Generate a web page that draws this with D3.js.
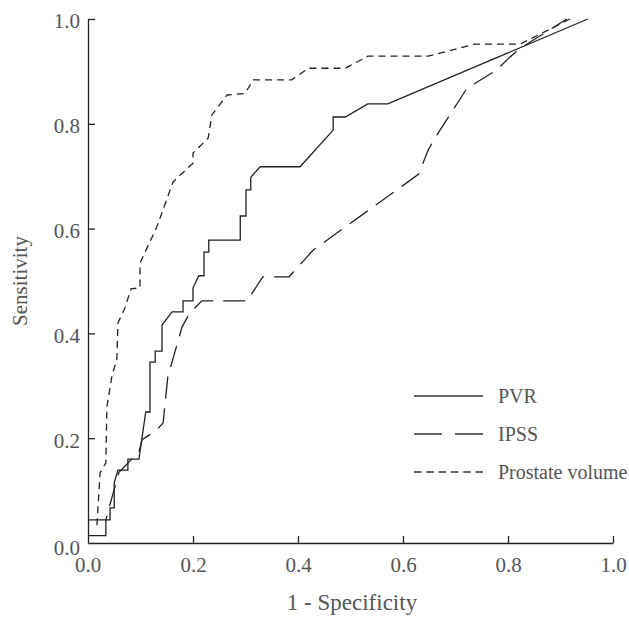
<!DOCTYPE html>
<html>
<head>
<meta charset="utf-8">
<script src="https://cdn.jsdelivr.net/npm/d3@7"></script>
<style>
  body { margin: 0; background: #fff; }
</style>
</head>
<body>
<svg id="chart" width="629" height="618"></svg>
<script>
// ROC curves as [1 - specificity, sensitivity]
const pvr = [
  [0, 0.014], [0.034, 0.014], [0.034, 0.044], [0.042, 0.044], [0.042, 0.067],
  [0.050, 0.067], [0.050, 0.115], [0.057, 0.139], [0.076, 0.139], [0.076, 0.160],
  [0.097, 0.160], [0.110, 0.250], [0.118, 0.250], [0.118, 0.345], [0.128, 0.345],
  [0.128, 0.366], [0.141, 0.366], [0.141, 0.416], [0.160, 0.441], [0.181, 0.441],
  [0.181, 0.462], [0.200, 0.462], [0.200, 0.487], [0.211, 0.510], [0.221, 0.510],
  [0.221, 0.555], [0.230, 0.555], [0.230, 0.578], [0.290, 0.578], [0.290, 0.624],
  [0.301, 0.624], [0.301, 0.674], [0.310, 0.674], [0.310, 0.698], [0.328, 0.718],
  [0.404, 0.718], [0.467, 0.788], [0.467, 0.813], [0.490, 0.813], [0.533, 0.838],
  [0.571, 0.838], [0.952, 1.0]
]
const ipss = [
  [0, 0.044], [0.034, 0.044], [0.042, 0.074], [0.059, 0.135], [0.097, 0.174],
  [0.103, 0.197], [0.131, 0.216], [0.143, 0.229], [0.152, 0.317], [0.179, 0.412],
  [0.194, 0.439], [0.217, 0.462], [0.303, 0.462], [0.333, 0.508], [0.383, 0.508],
  [0.429, 0.559], [0.630, 0.704], [0.648, 0.750], [0.661, 0.773], [0.722, 0.868],
  [0.779, 0.903], [0.798, 0.922], [0.820, 0.942], [0.912, 1.0]
]
const prostate = [
  [0.017, 0.034], [0.023, 0.134], [0.034, 0.153], [0.036, 0.260], [0.046, 0.321],
  [0.055, 0.350], [0.057, 0.420], [0.069, 0.445], [0.082, 0.485], [0.099, 0.487],
  [0.099, 0.534], [0.131, 0.603], [0.162, 0.689], [0.200, 0.725], [0.200, 0.744],
  [0.229, 0.773], [0.236, 0.817], [0.265, 0.855], [0.299, 0.858], [0.315, 0.884],
  [0.388, 0.884], [0.420, 0.906], [0.490, 0.906], [0.533, 0.929], [0.648, 0.929],
  [0.737, 0.952], [0.823, 0.952], [0.918, 1.0]
]
const seriesNames = ["PVR", "IPSS", "Prostate volume"]
const tickValues = [0, 0.2, 0.4, 0.6, 0.8, 1.0]

const FONT = "'Liberation Serif', 'DejaVu Serif', serif"
const TEXT = "#555"

const svg = d3.select("#chart")
const margin = { left: 88, top: 19, right: 16, bottom: 75 }
const W = 629, H = 618

const x = d3.scaleLinear().domain([0, 1]).range([margin.left, W - margin.right])
const y = d3.scaleLinear().domain([0, 1]).range([H - margin.bottom, margin.top])

const series = [
  { name: seriesNames[0], data: pvr, dash: null, legendDash: null },
  { name: seriesNames[1], data: ipss, dash: "22,10", legendDash: "28,13" },
  { name: seriesNames[2], data: prostate, dash: "7,5", legendDash: "7.5,4.8" }
]

// axes, ticks point into the plot
const xAxis = svg.append("g")
  .attr("transform", `translate(0,${y(0)})`)
  .call(d3.axisBottom(x).tickValues(tickValues.slice(1)).tickSize(-7).tickSizeOuter(0).tickFormat(d3.format(".1f")))
const yAxis = svg.append("g")
  .attr("transform", `translate(${x(0)},0)`)
  .call(d3.axisLeft(y).tickValues(tickValues.slice(1)).tickSize(-7).tickSizeOuter(0).tickFormat(d3.format(".1f")))

svg.selectAll("g").attr("font-family", FONT)
svg.selectAll(".domain, .tick line").attr("stroke", "#222").attr("stroke-width", 1.3)
svg.selectAll(".tick text").attr("font-size", 21).attr("fill", TEXT)
xAxis.selectAll(".tick text").attr("y", 14)
yAxis.selectAll(".tick text").attr("x", -8).attr("dy", "0.42em")

// the shared 0.0 labels at the origin
svg.append("text").attr("x", x(0)).attr("y", y(0) + 14 + 15).attr("text-anchor", "middle")
  .attr("font-family", FONT).attr("fill", TEXT).attr("font-size", 21).text("0.0")
svg.append("text").attr("x", x(0) - 8).attr("y", y(0) + 12).attr("text-anchor", "end")
  .attr("font-family", FONT).attr("fill", TEXT).attr("font-size", 21).text("0.0")

const line = d3.line().x(d => x(d[0])).y(d => y(d[1]))

svg.selectAll(".roc")
  .data(series)
  .join("path")
  .attr("class", "roc")
  .attr("d", d => line(d.data))
  .attr("fill", "none")
  .attr("stroke", "#222")
  .attr("stroke-width", 1.3)
  .attr("stroke-dasharray", d => d.dash)

// legend
const legend = svg.append("g")
series.forEach((s, i) => {
  const ly = 396 + i * 38
  legend.append("line")
    .attr("x1", 414).attr("x2", 483).attr("y1", ly).attr("y2", ly)
    .attr("stroke", "#333").attr("stroke-width", 1.3)
    .attr("stroke-dasharray", s.legendDash)
  legend.append("text")
    .attr("x", 498).attr("y", ly + 7)
    .attr("font-family", FONT).attr("fill", TEXT)
    .attr("font-size", 20)
    .text(s.name)
})

// axis titles
svg.append("text")
  .attr("x", 352).attr("y", 610)
  .attr("text-anchor", "middle").attr("font-size", 23)
  .attr("font-family", FONT).attr("fill", TEXT)
  .text("1 - Specificity")
svg.append("text")
  .attr("transform", `translate(27,${(y(0) + y(1)) / 2}) rotate(-90)`)
  .attr("text-anchor", "middle").attr("font-size", 21)
  .attr("font-family", FONT).attr("fill", TEXT)
  .text("Sensitivity")
</script>
</body>
</html>
